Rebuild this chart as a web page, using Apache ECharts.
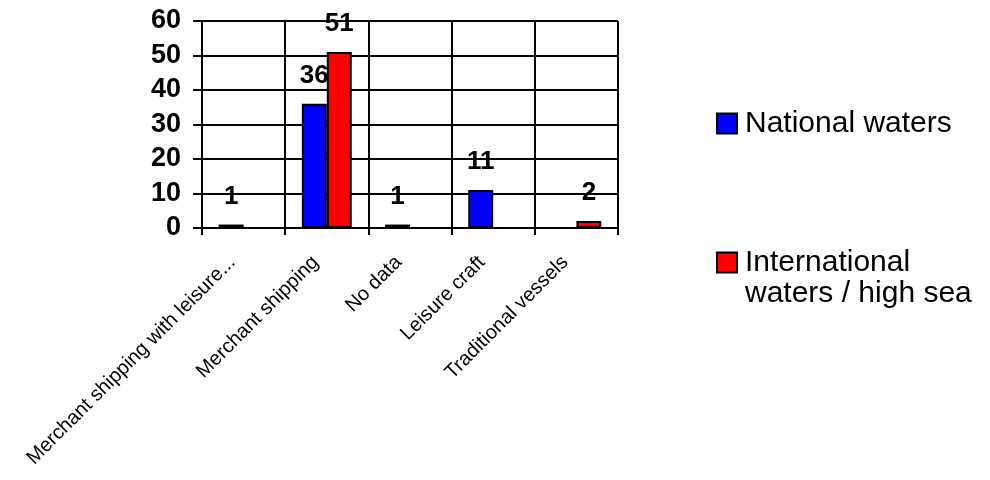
<!DOCTYPE html>
<html>
<head>
<meta charset="utf-8">
<script src="https://cdn.jsdelivr.net/npm/echarts@6/dist/echarts.min.js"></script>
<style>
  html, body { margin: 0; padding: 0; background: #fff; }
  #chart { width: 990px; height: 480px; }
</style>
</head>
<body>
<div id="chart"></div>
<script>
// Vessel types involved, split by where the incident happened
const categories = [
  'Merchant shipping with leisure...',
  'Merchant shipping',
  'No data',
  'Leisure craft',
  'Traditional vessels'
];
const nationalWaters = [1, 36, 1, 11, null];
const internationalWaters = [null, 51, null, null, 2];
const yTicks = { min: 0, max: 60, interval: 10 };
const seriesNames = ['National waters', 'International waters / high sea'];

const FONT = '"Liberation Sans", Arial, Helvetica, sans-serif';

const chart = echarts.init(document.getElementById('chart'), null, { renderer: 'canvas' });

const barLabel = {
  show: true,
  position: 'top',
  distance: 15,
  color: '#000',
  fontFamily: FONT,
  fontWeight: 'bold',
  fontSize: 26
};

const legendBase = {
  orient: 'vertical',
  left: 716,
  padding: 0,
  icon: 'rect',
  itemWidth: 20,
  itemHeight: 20,
  selectedMode: false,
  itemStyle: { borderColor: '#000', borderWidth: 2 },
  textStyle: { fontFamily: FONT, fontSize: 30, color: '#000', lineHeight: 31, padding: [0, 0, 0, 3] }
};

chart.setOption({
  animation: false,
  backgroundColor: '#fff',
  grid: { left: 202, right: 372, top: 21, bottom: 252, containLabel: false },
  legend: [
    Object.assign({}, legendBase, {
      top: 108,
      data: [seriesNames[0]]
    }),
    Object.assign({}, legendBase, {
      top: 216,
      data: [seriesNames[1]],
      // an empty first line keeps the swatch level with "International"
      formatter: name => '\n' + name.replace(' waters', '\nwaters')
    })
  ],
  xAxis: {
    type: 'category',
    data: categories,
    boundaryGap: true,
    axisLine: { show: true, lineStyle: { color: '#000', width: 2 } },
    axisTick: { show: true, length: 7, lineStyle: { color: '#000', width: 2 } },
    splitLine: { show: true, lineStyle: { color: '#000', width: 2 } },
    axisLabel: {
      interval: 0,
      rotate: 45,
      margin: 20,
      padding: [0, 16, 0, 0],
      color: '#000',
      fontFamily: FONT,
      fontSize: 20
    }
  },
  yAxis: {
    type: 'value',
    min: yTicks.min,
    max: yTicks.max,
    interval: yTicks.interval,
    axisLine: { show: true, lineStyle: { color: '#000', width: 2 } },
    axisTick: { show: true, length: 9, lineStyle: { color: '#000', width: 2 } },
    splitLine: { show: true, lineStyle: { color: '#000', width: 2 } },
    axisLabel: {
      margin: 21,
      color: '#000',
      fontFamily: FONT,
      fontWeight: 'bold',
      fontSize: 27
    }
  },
  series: [
    {
      name: seriesNames[0],
      type: 'bar',
      data: nationalWaters,
      barGap: '0%',
      barCategoryGap: '40%',
      itemStyle: { color: '#0000FF', borderColor: '#000', borderWidth: 2 },
      label: barLabel
    },
    {
      name: seriesNames[1],
      type: 'bar',
      data: internationalWaters,
      itemStyle: { color: '#FF0000', borderColor: '#000', borderWidth: 2 },
      label: barLabel
    }
  ]
});
</script>
</body>
</html>
